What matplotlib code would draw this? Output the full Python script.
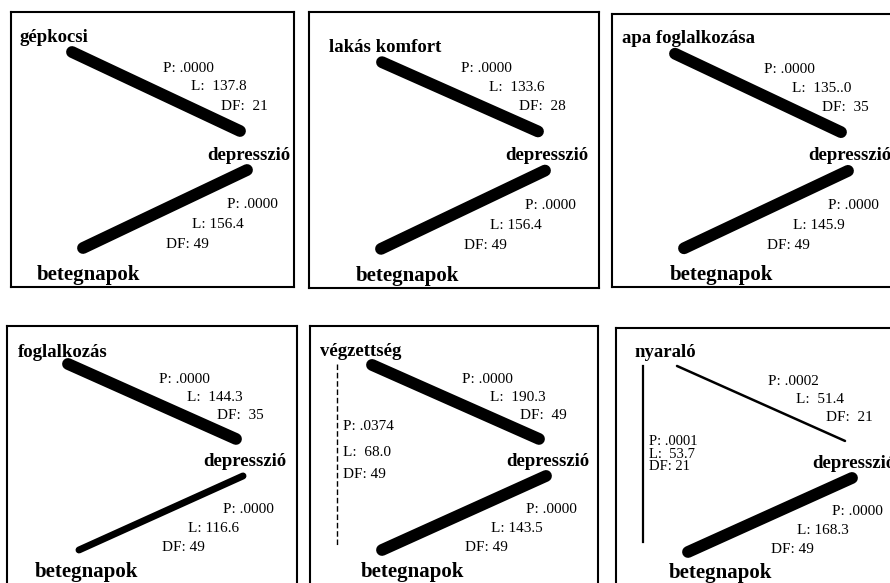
import matplotlib.pyplot as plt

# path diagrams: factor -> depresszió -> betegnapok
factors = ["gépkocsi", "lakás komfort", "apa foglalkozása",
           "foglalkozás", "végzettség", "nyaraló"]

# factor -> depresszió
fd_p = [".0000", ".0000", ".0000", ".0000", ".0000", ".0002"]
fd_L = ["137.8", "133.6", "135..0", "144.3", "190.3", "51.4"]
fd_df = ["21", "28", "35", "35", "49", "21"]

# depresszió -> betegnapok
db_p = [".0000", ".0000", ".0000", ".0000", ".0000", ".0000"]
db_L = ["156.4", "156.4", "145.9", "116.6", "143.5", "168.3"]
db_df = ["49", "49", "49", "49", "49", "49"]

# factor -> betegnapok (only where the path is drawn)
fb_p = [None, None, None, None, ".0374", ".0001"]
fb_L = [None, None, None, None, "68.0", "53.7"]
fb_df = [None, None, None, None, "49", "21"]

# styles of the edges
w_fd = [8.5, 8.5, 8.5, 8.5, 8.5, 1.8]
w_db = [8.5, 8.5, 8.5, 5.0, 8.5, 8.5]
w_fb = [0, 0, 0, 0, 1.0, 1.6]
ls_fb = ["-", "-", "-", "-", (0, (4, 2)), "-"]

# panel boxes in pixels (left, top, width, height)
boxes = [(11, 12, 283, 275), (309, 12, 290, 276), (612, 14, 288, 273),
         (7, 326, 290, 261), (310, 326, 288, 261), (616, 328, 288, 261)]
label_xy = [(8, 26), (20, 35), (10, 25), (11, 28), (10, 27), (18, 26)]
fd_start = [(61, 40), (73, 50), (63, 40), (61, 40), (62, 41), (61, 40)]
beteg_xy = [(26, 263), (47, 263), (58, 263), (28, 259), (51, 259), (53, 258)]
fb_end = [None, None, None, None, 232, 225]
fb_text = [None, None, None, None, ((106, 133, 156), 11), ((120, 133, 146), 10.5)]

plt.rcParams["font.family"] = ["Liberation Serif", "DejaVu Serif"]
W, H = 890, 583
fig = plt.figure(figsize=(W / 100, H / 100), dpi=100)
HREF = 275
stat_fs = 11

for i, name in enumerate(factors):
    x0, y0, w, h = boxes[i]
    ax = fig.add_axes([x0 / W, 1 - (y0 + h) / H, w / W, h / H])
    ax.set_xlim(0, w)
    ax.set_ylim(HREF, 0)
    ax.set_xticks([])
    ax.set_yticks([])
    for sp in ax.spines.values():
        sp.set_linewidth(1.5)

    sx, sy = fd_start[i]
    ax.plot([sx, 229], [sy, 119], color="black", lw=w_fd[i], solid_capstyle="round")
    ax.plot([72, 236], [236, 158], color="black", lw=w_db[i], solid_capstyle="round")
    if fb_p[i] is not None:
        ax.plot([27, 27], [40, fb_end[i]], color="black", lw=w_fb[i], linestyle=ls_fb[i])
        ty, fs = fb_text[i]
        ax.text(33, ty[0], f"P: {fb_p[i]}", fontsize=fs, va="center")
        ax.text(33, ty[1], f"L:  {fb_L[i]}", fontsize=fs, va="center")
        ax.text(33, ty[2], f"DF: {fb_df[i]}", fontsize=fs, va="center")

    lx, ly = label_xy[i]
    ax.text(lx, ly, name, fontsize=13.5, fontweight="bold", va="center")
    ax.text(196, 143, "depresszió", fontsize=13.5, fontweight="bold", va="center",
            clip_on=False)
    bx, by = beteg_xy[i]
    ax.text(bx, by, "betegnapok", fontsize=15, fontweight="bold", va="center")

    ax.text(152, 56, f"P: {fd_p[i]}", fontsize=stat_fs, va="center")
    ax.text(180, 75, f"L:  {fd_L[i]}", fontsize=stat_fs, va="center")
    ax.text(210, 94, f"DF:  {fd_df[i]}", fontsize=stat_fs, va="center")

    ax.text(216, 193, f"P: {db_p[i]}", fontsize=stat_fs, va="center")
    ax.text(181, 213, f"L: {db_L[i]}", fontsize=stat_fs, va="center")
    ax.text(155, 233, f"DF: {db_df[i]}", fontsize=stat_fs, va="center")

fig.savefig("out.png", dpi=100, facecolor="white")
